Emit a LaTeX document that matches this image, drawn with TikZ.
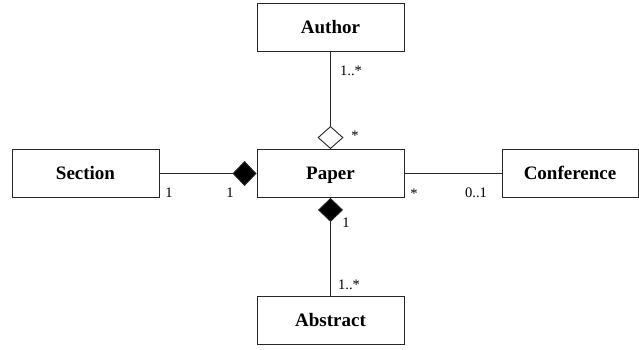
\documentclass[tikz,border=0pt]{standalone}
\usepackage{fontspec}
\setmainfont{Liberation Serif}
\usetikzlibrary{arrows.meta}
\begin{document}
\begin{tikzpicture}[x=1pt,y=1pt,
  classbox/.style={draw=black!85, line width=0.9pt, minimum width=147pt,
    minimum height=48pt, inner sep=0pt, text height=14pt, text depth=2pt,
    font=\fontsize{19}{22}\selectfont\bfseries},
  assoc/.style={draw=black!85, line width=0.9pt},
  mult/.style={font=\fontsize{14.5}{16}\selectfont, inner sep=0pt},
  comp/.style={-{Diamond[length=24pt,width=25pt,fill=black]}},
  aggr/.style={-{Diamond[length=23pt,width=26pt,open,fill=white]}}]
  \useasboundingbox (0,0) rectangle (639,349);

  % classes
  \node[classbox] (author) at (330.5,322) {Author};
  \node[classbox] (paper) at (330.5,175.5) {Paper};
  \node[classbox] (section) at (85.5,175.5) {Section};
  \node[classbox, minimum width=136pt] (conf) at (570,175.5) {Conference};
  \node[classbox] (abstract) at (330.5,29) {Abstract};

  % associations
  \draw[assoc, aggr] (author) -- (paper);
  \draw[assoc, comp] (section) -- (paper);
  \draw[assoc, comp] (abstract) -- (paper);
  \draw[assoc] (paper) -- (conf);

  % multiplicities
  \node[mult] (mAuthor) at (351,278) {1..*};
  \node[mult] (mAggr) at (355,213) {*};
  \node[mult] (mSection) at (169,156) {1};
  \node[mult] (mPaperL) at (230,156) {1};
  \node[mult] (mPaperR) at (414,155) {*};
  \node[mult] (mConf) at (476,156) {0..1};
  \node[mult] (mPaperB) at (346,126) {1};
  \node[mult] (mAbstract) at (349,64) {1..*};
\end{tikzpicture}
\end{document}
